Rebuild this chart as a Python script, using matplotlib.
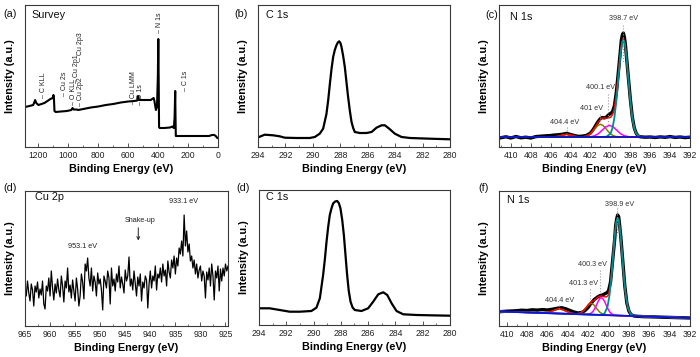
import matplotlib
matplotlib.use("Agg")
import matplotlib.pyplot as plt
from matplotlib.ticker import MultipleLocator

plt.rcParams['font.family'] = ['Liberation Sans', 'DejaVu Sans']

# ---------------- data ----------------
# (a) survey
survey_ev = [1290, 1260, 1235, 1222, 1215, 1200, 1180, 1160, 1140, 1120, 1105, 1100, 1097, 1093, 1085,
             1050, 1010, 980, 972, 965, 945, 935, 900, 850, 800, 750, 700, 650, 600, 560, 540, 533,
             528, 500, 470, 450, 430, 425, 415, 408, 402, 399, 396, 394, 390, 360, 320, 305, 295,
             290, 286, 284, 282, 250, 200, 150, 100, 60, 40, 25, 15, 5, 0]
survey_int = [40, 41, 42, 47, 44, 42, 43, 44, 46, 48, 49, 52, 50, 36, 35,
              35.5, 36, 37, 39, 37.5, 37.5, 37, 38, 39.5, 40.5, 42, 43, 44.5, 45.5, 46, 46.5, 51,
              47, 47, 47, 47, 49, 46, 37, 40, 70, 108, 60, 20, 19, 19, 19.5, 20.5, 19,
              30, 56, 30, 11, 11, 11, 11, 11, 11, 12, 12, 11, 9, 9]
survey_labels = ["C KLL", "Cu 2s", "O KLL", "Cu 2p2", "Cu 2p1", "Cu 2p3", "Cu LMM", "O 1s", "N 1s", "C 1s"]
survey_label_ev = [1166, 1025, 969, 920, 947, 920, 563, 518, 389, 217]
survey_label_int = [48.7, 51, 41.7, 41, 63.7, 86, 42.7, 41.7, 114, 56]

# (b) C 1s (top)
c1s_b_ev = [293.93, 293.51, 292.90, 292.42, 292.05, 291.20, 290.23, 289.86, 289.50, 289.25, 289.01,
            288.88, 288.76, 288.64, 288.52, 288.40, 288.28, 288.18, 288.08, 287.99, 287.91, 287.79,
            287.67, 287.55, 287.43, 287.30, 287.18, 287.06, 286.94, 286.57, 286.09,
            285.72, 285.36, 284.99, 284.75, 284.43, 284.02, 283.53, 282.92, 281.46, 280.00]
c1s_b_int = [10, 12.3, 11.7, 10.7, 9.3, 9, 9, 10, 13.3, 18.3, 33,
             47, 63, 78, 90, 97, 101.7, 104.5, 105.7, 104, 100, 91,
             80, 65, 50, 36, 25, 19, 15, 14, 14,
             15, 19.3, 21.7, 21.7, 18.3, 13.3, 10, 9, 8.3, 7.7]

# (e) C 1s (bottom)
c1s_e_ev = [294.00, 293.22, 292.48, 291.75, 291.01, 290.16, 289.79, 289.54, 289.30, 289.17, 289.05,
            288.93, 288.81, 288.68, 288.56, 288.42, 288.27, 288.15, 288.03, 287.90, 287.78, 287.66,
            287.54, 287.42, 287.29, 287.14, 286.98, 286.49, 286.00, 285.63, 285.26,
            284.89, 284.60, 284.28, 283.92, 283.43, 282.45, 281.47, 280.00]
c1s_e_int = [16.7, 16.7, 15, 13.3, 13.3, 14, 17.3, 26.7, 50, 66, 83.3,
             98, 110, 117, 121.7, 123.5, 124, 122, 116.7, 105, 90, 70,
             50, 34, 23.3, 17.5, 15, 14, 16.7, 23.3, 30.7,
             32.7, 30, 21.7, 14, 10.7, 10, 9.7, 9.3]

# (c) N 1s (top)
n1s_c_raw_ev = [411.0, 410.5, 410.0, 409.5, 409.0, 408.5, 408.0, 407.5, 407.0, 406.5, 406.0,
                405.6, 405.2, 404.8, 404.4, 404.0, 403.6, 403.2, 402.8, 402.4, 402.0,
                401.8, 401.6, 401.4, 401.2, 401.0, 400.8, 400.6, 400.4, 400.2, 400.0, 399.8, 399.6, 399.4, 399.2, 399.0,
                398.9, 398.8, 398.7, 398.6, 398.5, 398.4,
                398.2, 398.0, 397.8, 397.6, 397.4, 397.2, 397.0,
                396.5, 396.0, 395.5, 395.0, 394.5, 394.0, 393.5, 393.0, 392.5, 392.0]
n1s_c_raw = [9.3, 10.2, 9.0, 10.5, 9.2, 9.8, 9.0, 10.4, 10.8, 11.2, 11.5,
             12.0, 12.3, 12.8, 13.6, 12.5, 11.4, 10.6, 10.9, 11.6, 14.0,
             16.5, 19.5, 23.0, 26.0, 28.5, 29.5, 29.0, 30.0, 32.0, 33.5, 35.0, 41.0, 55.0, 75.0, 96.0,
             107, 112, 114, 110, 103, 92,
             70, 48, 30, 19, 13.5, 11, 10.2,
             9.8, 10.0, 9.5, 10.1, 9.7, 10.4, 9.6, 10.0, 9.4, 9.8]
n1s_c_env_ev = [411.2, 406, 405.2, 404.8, 404.4, 404.0, 403.6, 403.2, 402.8, 402.4, 402.0, 401.6, 401.2,
                400.8, 400.4, 400.0, 399.8, 399.6, 399.4, 399.2, 399.0, 398.85, 398.7, 398.55, 398.4,
                398.2, 398.0, 397.8, 397.6, 397.4, 397.0, 396.5, 392]
n1s_c_env = [10, 10, 10.75, 11.96, 12.7, 11.96, 10.75, 10.15, 10.16, 10.9, 13.5, 18.9, 25.4,
             29.1, 28.7, 29.5, 32.0, 39.1, 53.9, 74.1, 94.4, 105.1, 108.6, 103.7, 91.6,
             69.2, 46.5, 29.2, 18.6, 13.3, 10.3, 10, 10]
n1s_c_teal_ev = [411.2, 401.0, 400.4, 400.0, 399.8, 399.6, 399.4, 399.2, 399.0, 398.9, 398.8, 398.7,
                 398.6, 398.5, 398.4, 398.2, 398.0, 397.8, 397.6, 397.4, 397.2, 397.0, 396.6, 392.0]
n1s_c_teal = [10, 10, 10.3, 13.3, 18.6, 29.2, 46.4, 68.9, 91, 99.5, 105, 107,
              105, 99.5, 91, 68.9, 46.4, 29.2, 18.6, 13.3, 11.1, 10.3, 10, 10]
n1s_c_mag_ev = [411.2, 402.5, 402.0, 401.6, 401.2, 400.8, 400.5, 400.1, 399.7, 399.4, 399.0, 398.6, 398.2, 397.7, 392]
n1s_c_mag = [10, 10, 10.3, 11.2, 13.4, 17.1, 19.9, 21.7, 19.9, 17.1, 13.4, 11.2, 10.3, 10, 10]
n1s_c_olv_ev = [411.2, 403.0, 402.5, 402.1, 401.8, 401.5, 401.25, 401.0, 400.75, 400.5, 400.2, 399.9, 399.5, 399.0, 392]
n1s_c_olv = [10, 10, 10.6, 12.4, 15.2, 19.0, 21.6, 22.7, 21.6, 19.0, 15.2, 12.4, 10.6, 10, 10]
n1s_c_sm_ev = [411.2, 405.6, 405.2, 404.8, 404.4, 404.0, 403.6, 403.2, 392]
n1s_c_sm = [10, 10.15, 10.75, 11.96, 12.7, 11.96, 10.75, 10.15, 10]
n1s_c_bg_ev = [411.2, 392]
n1s_c_bg = [10, 10]

# (f) N 1s (bottom)
n1s_f_raw_ev = [410.7, 410.0, 409.5, 409.0, 408.5, 408.0, 407.5, 407.0, 406.5, 406.0,
                405.5, 405.0, 404.6, 404.2, 403.8, 403.4, 403.0, 402.6, 402.3, 402.0,
                401.8, 401.6, 401.4, 401.2, 401.0, 400.8, 400.6, 400.4, 400.2, 400.0,
                399.8, 399.6, 399.4, 399.3, 399.2, 399.1, 399.0, 398.9, 398.8, 398.6,
                398.4, 398.2, 398.0, 397.8, 397.5, 397.0, 396.5, 396.0, 395.0, 394.0, 393.0, 392.0]
n1s_f_raw = [14.3, 14.8, 15.0, 15.3, 15.8, 15.5, 16.2, 15.9, 16.4, 16.0,
             16.8, 17.8, 18.3, 17.2, 15.6, 14.0, 13.0, 13.6, 15.5, 18.5,
             21.5, 24.0, 26.5, 28.0, 29.5, 30.5, 31.0, 32.0, 33.0, 35.0,
             44, 65, 86, 100, 107, 111, 109, 100, 90, 65,
             40, 23, 15, 11.5, 10, 9.6, 9.3, 9.2, 8.9, 8.6, 8.3, 8.0]
n1s_f_env_ev = [410.7, 407, 406.0, 405.5, 405.1, 404.8, 404.5, 404.1, 403.6, 403.2, 402.8, 402.5, 402.2,
                401.95, 401.7, 401.45, 401.2, 400.95, 400.7, 400.45, 400.2, 400.0, 399.8, 399.6, 399.45,
                399.3, 399.2, 399.1, 399.0, 398.9, 398.75, 398.6, 398.4, 398.2, 398.0, 397.7, 397.3, 396.5, 392]
n1s_f_env = [14.5, 13.22, 13.48, 14.97, 16.52, 16.95, 16.32, 14.49, 12.64, 12.14, 12.77, 14.79, 18.48,
             21.79, 24.14, 25.56, 27.38, 29.62, 30.03, 29.3, 29.0, 31.0, 42.15, 64.11, 83.05,
             98.98, 105.65, 107.99, 105.53, 98.7, 82.44, 62.89, 39.32, 23.35, 14.98, 10.75, 9.85, 9.56, 8.0]
n1s_f_teal_ev = [410.7, 401.5, 400.8, 400.4, 400.1, 399.9, 399.7, 399.55, 399.4, 399.3, 399.2, 399.1,
                 399.0, 398.9, 398.8, 398.65, 398.5, 398.3, 398.1, 397.8, 397.4, 396.5, 392]
n1s_f_teal = [14.5, 11.3, 11.14, 12.42, 19.08, 30.85, 50.78, 69.83, 88.67, 98.84, 105.6, 107.97,
              105.5, 98.7, 88.46, 69.51, 50.36, 30.29, 18.38, 11.52, 9.96, 9.56, 8.0]
n1s_f_mag_ev = [410.7, 402.4, 402.0, 401.7, 401.5, 401.3, 401.15, 401.0, 400.85, 400.7, 400.55,
                400.4, 400.25, 400.1, 399.9, 399.7, 399.4, 399.0, 392]
n1s_f_mag = [14.5, 11.63, 11.75, 12.84, 14.86, 18.34, 21.68, 24.99, 27.44, 28.32, 27.34,
             24.78, 21.36, 17.93, 14.31, 12.15, 10.84, 10.44, 8.0]
n1s_f_olv_ev = [410.7, 403.7, 403.2, 402.8, 402.5, 402.2, 401.95, 401.7, 401.45, 401.2, 400.9, 400.6, 400.2, 399.7, 392]
n1s_f_olv = [14.5, 12.07, 12.02, 12.75, 14.79, 18.41, 21.43, 22.67, 21.25, 18.05, 14.23, 11.99, 10.98, 10.68, 8.0]
n1s_f_sm_ev = [410.7, 406.6, 406.0, 405.5, 405.1, 404.8, 404.5, 404.1, 403.6, 403.0, 392]
n1s_f_sm = [14.5, 13.12, 13.48, 14.97, 16.52, 16.95, 16.32, 14.49, 12.64, 11.87, 8.0]
n1s_f_bg_ev = [410.7, 392]
n1s_f_bg = [14.5, 8.0]

# (d) Cu 2p
cu_ev_start, cu_ev_step = 965.0, -0.25
cu_int = [38, 30, 45, 33, 25, 42, 36, 20, 40, 34, 44, 28, 37,
          31, 45, 22, 17, 40, 35, 48, 30, 55, 38, 26, 42,
          33, 47, 36, 29, 50, 40, 24, 45, 38, 58, 34, 41,
          28, 46, 35, 25, 48, 37, 20, 30, 52, 44, 27, 62,
          55, 68, 48, 40, 58, 35, 50, 44, 30, 53, 42, 47,
          36, 16, 50, 45, 38, 55, 48, 22, 58, 40, 47, 35,
          52, 44, 60, 38, 49, 42, 33, 56, 45, 50, 69, 40,
          47, 36, 55, 42, 30, 49, 40, 52, 25, 44, 38, 50,
          46, 18, 42, 55, 38, 50, 45, 60, 36, 52, 48, 58,
          44, 62, 50, 56, 40, 65, 54, 48, 66, 58, 70, 52,
          68, 60, 78, 72, 85, 70, 111, 80, 95, 74, 82, 65,
          70, 58, 66, 52, 62, 48, 56, 60, 45, 55, 50, 28,
          54, 46, 58, 40, 62, 50, 26, 55, 48, 60, 35, 57,
          45, 58, 50, 62, 55, 60]
cu_ev = [cu_ev_start + i * cu_ev_step for i in range(len(cu_int))]

# annotations
c_ann_text = ["398.7 eV", "400.1 eV", "401 eV", "404.4 eV"]
c_ann_xy = [(398.7, 128.3), (401.0, 59.3), (401.85, 38.3), (404.65, 25)]
c_ann_line = [(398.7, 121.7, 85), (400.2, 53.3, 23.3), (401.05, 33, 24), (404.4, 20, 14)]
f_ann_text = ["398.9 eV", "400.3 eV", "401.3 eV", "404.4 eV"]
f_ann_xy = [(398.94, 121.7), (401.55, 61.7), (402.47, 42.7), (404.83, 25)]
f_ann_line = [(399.15, 117.7, 91), (400.8, 56, 34), (401.8, 37, 26), (404.9, 21, 17)]

# ---------------- figure ----------------
W, H = 700, 357
fig = plt.figure(figsize=(7.0, 3.57), dpi=100)


def add_ax(l, t, r, b):
    return fig.add_axes([l / W, 1 - b / H, (r - l) / W, (b - t) / H])


TICK_FS = 6.2
LAB_FS = 7.8
NAME_FS = 7.8
ANN_FS = 5.2
FRAME = '#3a3a3a'


def style(ax, xlim, ylim, major, minor):
    ax.set_xlim(*xlim)
    ax.set_ylim(*ylim)
    ax.xaxis.set_major_locator(MultipleLocator(major))
    ax.xaxis.set_minor_locator(MultipleLocator(minor))
    ax.set_yticks([])
    ax.tick_params(axis='x', which='both', direction='in', top=False, labelsize=TICK_FS,
                   pad=3, color=FRAME, labelcolor='#222222')
    ax.tick_params(axis='x', which='major', length=3, width=0.6)
    ax.tick_params(axis='x', which='minor', length=1.6, width=0.5)
    for s in ax.spines.values():
        s.set_color(FRAME)
        s.set_linewidth(0.8)
    ax.set_xlabel('Binding Energy (eV)', fontsize=LAB_FS, fontweight='bold', labelpad=3)
    ax.set_ylabel('Intensity (a.u.)', fontsize=LAB_FS, fontweight='bold', labelpad=7)


def panel_text(ax_x, ax_y, s, fs=NAME_FS):
    fig.text(ax_x / W, 1 - ax_y / H, s, fontsize=fs, ha='left', va='center', color='#111111')


# (a) survey
axa = add_ax(25, 5, 218, 147)
axa.plot(survey_ev, survey_int, color='black', lw=1.5)
style(axa, (1290, 0), (0, 142), 200, 100)
for lab, x, y in zip(survey_labels, survey_label_ev, survey_label_int):
    axa.text(x, y, '– ' + lab, rotation=90, ha='center', va='bottom', fontsize=5.0, color='#222222')
panel_text(3, 14, '(a)')
panel_text(31, 15, 'Survey')

# (b) C 1s
axb = add_ax(258, 5, 450, 147)
axb.plot(c1s_b_ev, c1s_b_int, color='black', lw=1.6)
style(axb, (294, 280), (0, 142), 2, 1)
panel_text(234, 14, '(b)')
panel_text(266, 15, 'C 1s')

# (c) N 1s
axc = add_ax(499, 5, 690, 147)
axc.plot(n1s_c_raw_ev, n1s_c_raw, color='black', lw=2.4)
axc.plot(n1s_c_olv_ev, n1s_c_olv, color='#808000', lw=1.1)
axc.plot(n1s_c_sm_ev, n1s_c_sm, color='#808000', lw=1.1)
axc.plot(n1s_c_mag_ev, n1s_c_mag, color='#ff00ff', lw=1.1)
axc.plot(n1s_c_env_ev, n1s_c_env, color='#ff0000', lw=1.0)
axc.plot(n1s_c_teal_ev, n1s_c_teal, color='#008b8b', lw=1.3)
axc.plot(n1s_c_bg_ev, n1s_c_bg, color='#1010c0', lw=1.3)
style(axc, (411.2, 392), (0, 142), 2, 1)
for s, (x, y), (lx, y1, y2) in zip(c_ann_text, c_ann_xy, c_ann_line):
    axc.text(x, y, s, ha='center', va='center', fontsize=ANN_FS, color='#333333')
    axc.plot([lx, lx], [y1, y2], color='#999999', lw=0.8, ls=':')
panel_text(485, 15, '(c)')
panel_text(510, 17, 'N 1s')

# (d) Cu 2p
axd = add_ax(25, 191, 228, 326)
axd.plot(cu_ev, cu_int, color='black', lw=0.9)
style(axd, (965, 924.5), (0, 135), 5, 2.5)
axd.text(953.6, 79.3, '953.1 eV', ha='center', va='center', fontsize=ANN_FS, color='#222222')
axd.text(941.96, 106, 'Shake-up', ha='center', va='center', fontsize=ANN_FS, color='#222222')
axd.text(933.3, 124.3, '933.1 eV', ha='center', va='center', fontsize=ANN_FS, color='#222222')
axd.annotate('', xy=(942.4, 82.7), xytext=(942.4, 101),
             arrowprops=dict(arrowstyle='->', color='#222222', lw=0.7, mutation_scale=5))
panel_text(3, 188, '(d)')
panel_text(35, 197, 'Cu 2p')

# (e) C 1s
axe = add_ax(259, 190, 450, 325)
axe.plot(c1s_e_ev, c1s_e_int, color='black', lw=1.6)
style(axe, (294, 280), (0, 135), 2, 1)
panel_text(236, 188, '(d)')
panel_text(266, 197, 'C 1s')

# (f) N 1s
axf = add_ax(499, 191, 690, 326)
axf.plot(n1s_f_raw_ev, n1s_f_raw, color='black', lw=2.4)
axf.plot(n1s_f_olv_ev, n1s_f_olv, color='#808000', lw=1.1)
axf.plot(n1s_f_sm_ev, n1s_f_sm, color='#808000', lw=1.1)
axf.plot(n1s_f_mag_ev, n1s_f_mag, color='#ff00ff', lw=1.1)
axf.plot(n1s_f_env_ev, n1s_f_env, color='#ff0000', lw=1.0)
axf.plot(n1s_f_teal_ev, n1s_f_teal, color='#008b8b', lw=1.3)
axf.plot(n1s_f_bg_ev, n1s_f_bg, color='#1010e0', lw=1.3)
style(axf, (410.75, 392), (0, 135), 2, 1)
for s, (x, y), (lx, y1, y2) in zip(f_ann_text, f_ann_xy, f_ann_line):
    axf.text(x, y, s, ha='center', va='center', fontsize=ANN_FS, color='#333333')
    axf.plot([lx, lx], [y1, y2], color='#999999', lw=0.8, ls=':')
panel_text(478, 188, '(f)')
panel_text(507, 200, 'N 1s')

fig.savefig('out.png', dpi=100)
